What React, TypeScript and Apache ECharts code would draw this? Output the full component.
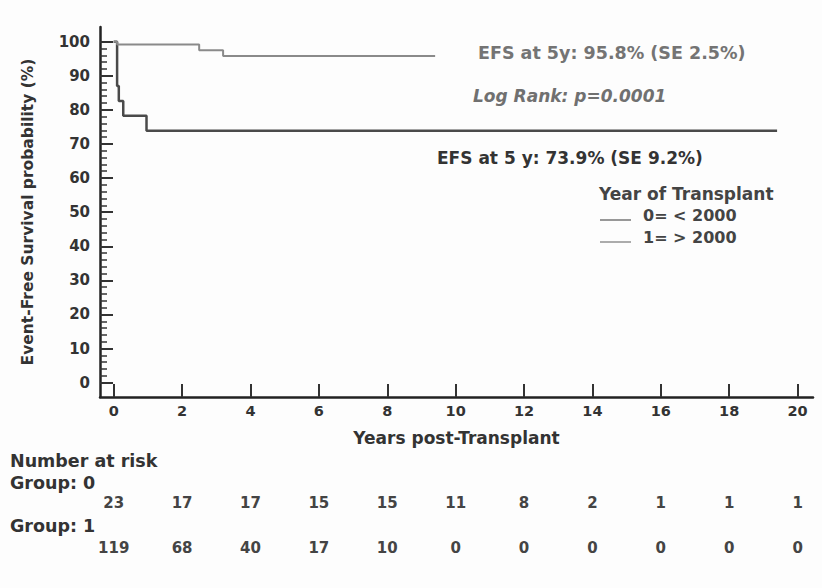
import React, { useEffect, useRef } from "react";
import * as echarts from "echarts";

// Kaplan-Meier step data: [years, EFS %]
const group0Curve: [number, number][] = [
  [0, 100], [0.1, 87.0], [0.15, 82.6], [0.28, 78.3], [0.96, 73.9], [19.4, 73.9],
];
const group1Curve: [number, number][] = [
  [0, 100], [0.1, 99.2], [2.5, 97.5], [3.2, 95.8], [9.4, 95.8],
];
const xTicks = [0, 2, 4, 6, 8, 10, 12, 14, 16, 18, 20];
const yTicks = [0, 10, 20, 30, 40, 50, 60, 70, 80, 90, 100];
const yMinorTicks = Array.from({ length: 51 }, (_, i) => i * 2);
const atRiskGroup0 = [23, 17, 17, 15, 15, 11, 8, 2, 1, 1, 1];
const atRiskGroup1 = [119, 68, 40, 17, 10, 0, 0, 0, 0, 0, 0];

const FONT = "'DejaVu Sans', 'Liberation Sans', Arial, sans-serif";
const X_MIN = -0.4;
const X_MAX = 20.45;
const Y_MIN = -4.2;
const Y_MAX = 104.3;

export default function App() {
  const ref = useRef<HTMLDivElement>(null);
  useEffect(() => {
    if (!ref.current) return;
    const chart = echarts.init(ref.current, null, { renderer: "svg" });
    const riskAxis = (values: number[], offset: number) => ({
      type: "value",
      position: "bottom",
      min: X_MIN,
      max: X_MAX,
      offset,
      axisLine: { show: false, onZero: false },
      axisTick: { show: false },
      splitLine: { show: false },
      axisLabel: {
        customValues: xTicks,
        margin: 0,
        fontFamily: FONT,
        fontWeight: "bold",
        fontSize: 15,
        color: "#444",
        formatter: (v: number) => {
          const i = xTicks.indexOf(Math.round(v));
          return i >= 0 ? String(values[i]) : "";
        },
      },
    });
    const txt = (x: number, y: number, text: string, size: number, fill: string, extra: any = {}) => ({
      type: "text",
      x,
      y,
      style: { text, fontFamily: FONT, fontSize: size, fontWeight: "bold", fill, verticalAlign: "middle", ...extra },
    });
    chart.setOption({
      animation: false,
      backgroundColor: "#fdfdfd",
      grid: { left: 100, right: 9, top: 27, bottom: 191, containLabel: false },
      xAxis: [
        {
          type: "value",
          min: X_MIN,
          max: X_MAX,
          name: "Years post-Transplant",
          nameLocation: "middle",
          nameGap: 32,
          nameTextStyle: { fontFamily: FONT, fontWeight: "bold", fontSize: 17, color: "#333" },
          axisLine: { onZero: false, lineStyle: { color: "#222", width: 2.5 } },
          axisTick: { customValues: xTicks, inside: true, length: 13, lineStyle: { color: "#333", width: 2 } },
          axisLabel: { customValues: xTicks, margin: 6, fontFamily: FONT, fontWeight: "bold", fontSize: 14.5, color: "#333" },
          splitLine: { show: false },
        },
        riskAxis(atRiskGroup0, 98),
        riskAxis(atRiskGroup1, 143),
      ],
      yAxis: [
        {
          type: "value",
          min: Y_MIN,
          max: Y_MAX,
          name: "Event-Free Survival probability (%)",
          nameLocation: "middle",
          nameGap: 64,
          nameTextStyle: { fontFamily: FONT, fontWeight: "bold", fontSize: 15.5, color: "#333" },
          axisLine: { onZero: false, lineStyle: { color: "#222", width: 2.5 } },
          axisTick: { customValues: yTicks, inside: true, length: 13, lineStyle: { color: "#333", width: 2 } },
          axisLabel: { customValues: yTicks, margin: 10, fontFamily: FONT, fontWeight: "bold", fontSize: 15, color: "#333" },
          splitLine: { show: false },
        },
        {
          type: "value",
          position: "left",
          min: Y_MIN,
          max: Y_MAX,
          axisLine: { show: false, onZero: false },
          axisLabel: { show: false },
          axisTick: { customValues: yMinorTicks, inside: true, length: 7, lineStyle: { color: "#333", width: 1.5 } },
          splitLine: { show: false },
        },
      ],
      series: [
        {
          type: "line",
          name: "0= < 2000",
          data: group0Curve,
          step: "end",
          showSymbol: false,
          lineStyle: { color: "#4a4a4a", width: 2.5 },
        },
        {
          type: "line",
          name: "1= > 2000",
          data: group1Curve,
          step: "end",
          showSymbol: false,
          lineStyle: { color: "#8a8a8a", width: 2 },
        },
      ],
      graphic: [
        txt(478, 53, "EFS at 5y: 95.8% (SE 2.5%)", 17.5, "#747474"),
        txt(473, 96, "Log Rank: p=0.0001", 17, "#707070", { fontStyle: "italic" }),
        txt(437, 158, "EFS at 5 y: 73.9% (SE 9.2%)", 17, "#333"),
        txt(599, 194, "Year of Transplant", 17, "#444"),
        { type: "line", shape: { x1: 600, y1: 220, x2: 631, y2: 220 }, style: { stroke: "#555", lineWidth: 1.2 } },
        txt(643, 215, "0= < 2000", 16, "#444"),
        { type: "line", shape: { x1: 600, y1: 242, x2: 631, y2: 242 }, style: { stroke: "#777", lineWidth: 1.2 } },
        txt(643, 237, "1= > 2000", 16, "#444"),
        txt(10, 461, "Number at risk", 17.5, "#333"),
        txt(10, 483, "Group: 0", 17.5, "#333"),
        txt(10, 526, "Group: 1", 17.5, "#333"),
      ],
    });
    return () => chart.dispose();
  }, []);
  return <div ref={ref} style={{ width: 822, height: 588, position: "absolute", left: 0, top: 0 }} />;
}
